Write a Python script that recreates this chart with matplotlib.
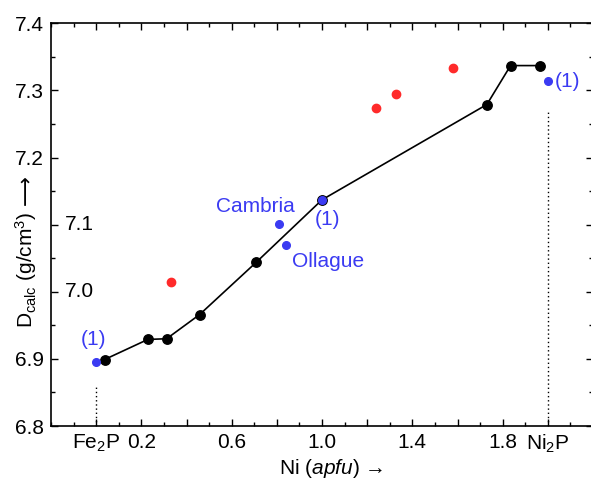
import matplotlib
matplotlib.use("Agg")
import matplotlib.pyplot as plt
from matplotlib.ticker import MultipleLocator, FixedLocator

plt.rcParams['font.family'] = ['Liberation Sans', 'DejaVu Sans']
plt.rcParams['mathtext.fontset'] = 'custom'
plt.rcParams['mathtext.rm'] = 'Liberation Sans'
plt.rcParams['mathtext.it'] = 'Liberation Sans:italic'
plt.rcParams['mathtext.bf'] = 'Liberation Sans:bold'

# calculated density along the Fe2P - Ni2P join (black line)
ni_calc = [0.037, 0.229, 0.312, 0.458, 0.709, 1.0, 1.730, 1.835, 1.967]
d_calc = [6.899, 6.929, 6.930, 6.966, 7.044, 7.137, 7.279, 7.337, 7.337]

# reference / natural samples (blue)
ni_blue = [0.0, 0.81, 0.839, 1.0, 2.0]
d_blue = [6.895, 7.101, 7.070, 7.137, 7.314]

# other samples (red)
ni_red = [0.33, 1.239, 1.329, 1.578]
d_red = [7.014, 7.274, 7.295, 7.333]

x_ticks = [0.0, 0.2, 0.4, 0.6, 0.8, 1.0, 1.2, 1.4, 1.6, 1.8, 2.0]
x_ticklabels = ["Fe$_2$P", "0.2", "", "0.6", "", "1.0", "", "1.4", "", "1.8", "Ni$_2$P"]
y_ticks = [6.8, 6.9, 7.0, 7.1, 7.2, 7.3, 7.4]
y_ticklabels = ["6.8", "6.9", "", "", "7.2", "7.3", "7.4"]

blue = '#3b3bf2'
red = '#ff2a2a'
fs = 15

fig = plt.figure(figsize=(5.91, 4.86), dpi=100)
ax = fig.add_axes([51 / 591, 1 - 426 / 486, 542 / 591, 402.7 / 486])

# dotted end-member markers
ax.plot([0, 0], [6.8, 6.86], color='black', lw=1, ls=(0, (1, 2)))
ax.plot([2.0, 2.0], [6.8, 7.269], color='black', lw=1, ls=(0, (1, 2)))

ax.plot(ni_calc, d_calc, color='black', lw=1.2, marker='o', ms=6.8, zorder=3)
ax.plot(ni_red, d_red, ls='none', marker='o', ms=6, color=red, zorder=3)
ax.plot(ni_blue, d_blue, ls='none', marker='o', ms=5.5, color=blue, zorder=4)

ax.text(-0.012, 6.929, "(1)", color=blue, fontsize=fs, ha='center', va='center')
ax.text(0.704, 7.127, "Cambria", color=blue, fontsize=fs, ha='center', va='center')
ax.text(1.026, 7.107, "(1)", color=blue, fontsize=fs, ha='center', va='center')
ax.text(1.026, 7.045, "Ollague", color=blue, fontsize=fs, ha='center', va='center')
ax.text(2.03, 7.313, "(1)", color=blue, fontsize=fs, ha='left', va='center')

ax.set_xlim(-0.2, 2.2)
ax.set_ylim(6.8, 7.4)
ax.xaxis.set_major_locator(FixedLocator(x_ticks))
ax.set_xticklabels(x_ticklabels)
ax.xaxis.set_minor_locator(MultipleLocator(0.1))
ax.yaxis.set_major_locator(FixedLocator(y_ticks))
ax.set_yticklabels(y_ticklabels)
ax.yaxis.set_minor_locator(MultipleLocator(0.05))
ax.tick_params(which='both', direction='in', top=True, right=True, labelsize=fs, width=1)
ax.tick_params(which='major', length=5)
ax.tick_params(which='minor', length=3)
ax.tick_params(axis='x', pad=5)
ax.tick_params(axis='y', pad=5)

# 7.0 and 7.1 labels sit inside the frame (y label is in the way)
yt = ax.get_yaxis_transform()
ax.text(0.025, 7.1, "7.1", transform=yt, fontsize=fs, ha='left', va='center')
ax.text(0.025, 7.0, "7.0", transform=yt, fontsize=fs, ha='left', va='center')

for s in ax.spines.values():
    s.set_linewidth(1.2)

# y label, with a long arrow drawn separately (needs DejaVu for the glyph)
fig.text(26 / 591, 1 - 270 / 486, "D$_{\\rm calc}$ (g/cm$^3$)", rotation=90,
         fontsize=fs, ha='center', va='center')
fig.text(26 / 591, 1 - 190 / 486, "\u27f6", rotation=90, family='DejaVu Sans',
         fontsize=fs, ha='center', va='center')
fig.text(331 / 591, 1 - 468 / 486, "Ni ($\\it{apfu}$) \u2192", fontsize=fs,
         ha='center', va='center')

fig.savefig("out.png", dpi=100)
